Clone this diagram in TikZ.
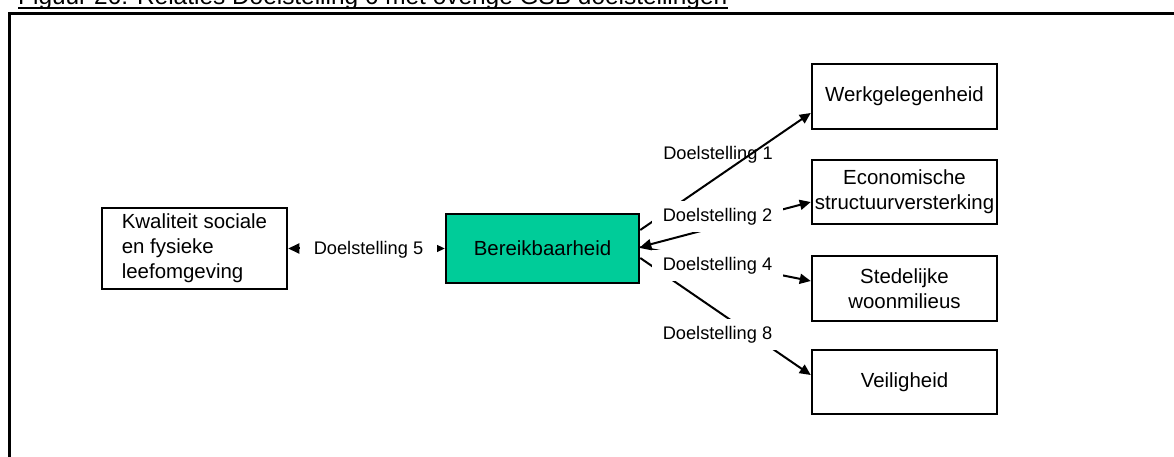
\documentclass[tikz,border=0pt]{standalone}
\usepackage{fontspec}
\setmainfont{Liberation Sans}
\usetikzlibrary{arrows.meta,calc}
\definecolor{reach}{RGB}{0,204,153}
\begin{document}
\begin{tikzpicture}[x=1bp,y=-1bp,
  goal/.style={draw, line width=2.5bp, minimum width=185bp, inner sep=0pt,
    font=\fontsize{20.5}{25}\selectfont, align=center},
  tip/.tip={Triangle[length=11bp,width=10bp]},
  oneway/.style={line width=2bp, -tip},
  twoway/.style={line width=2bp, tip-tip},
  tag/.style={font=\fontsize{18.3}{22}\selectfont, inner sep=0pt},
  masked/.style={tag, fill=white, minimum height=31bp, minimum width=131bp}]
\useasboundingbox (0,0) rectangle (1174,457);

% heading and frame
\node[anchor=base west, inner sep=0pt, font=\fontsize{24.5}{30}\selectfont] (title) at (18,5)
  {Figuur 26: Relaties Doelstelling 6 met overige GSB doelstellingen};
\draw[line width=2bp] ([yshift=-3bp]title.base west) -- ([yshift=-3bp]title.base east);
\draw[line width=3bp] (9,470) -- (9,13.5) -- (1190,13.5);

% goals
\node[goal, align=left, minimum height=81bp] (kw) at (194.5,248.5)
  {Kwaliteit sociale\\en fysieke\\leefomgeving};
\node[goal, fill=reach, minimum width=193bp, minimum height=69bp] (be) at (542.5,248.5)
  {Bereikbaarheid};
\node[goal, minimum height=65bp] (wg) at (904.5,96.5) {Werkgelegenheid};
\node[goal, minimum height=64bp] (ec) at (904.5,192)
  {Economische\\\makebox[0pt]{structuurversterking}};
\node[goal, minimum height=65bp] (st) at (904.5,288.5) {Stedelijke\\woonmilieus};
\node[goal, minimum height=64bp] (ve) at (904.5,382) {Veiligheid};

% label lying under its connector
\node[tag] (d1) at (718,155) {Doelstelling 1};

% connector ends
\coordinate (b1) at ($(be.east)+(0,-18.5)$);
\coordinate (b2) at ($(be.east)+(0,-1.5)$);
\coordinate (b8) at ($(be.east)+(0,9.5)$);
\coordinate (w1) at ($(wg.west)+(0,16.5)$);
\coordinate (e2) at ($(ec.west)+(0,10)$);
\coordinate (s4) at ($(st.west)+(0,-7.5)$);
\coordinate (v8) at ($(ve.west)+(0,-7)$);

% connectors
\draw[twoway] (kw.east) -- (be.west);
\draw[oneway] (b1) -- (w1);
\draw[twoway] (b2) -- (e2);
\draw[oneway] (b2) -- (s4);
\draw[oneway] (b8) -- (v8);

% labels blanking their connectors
\node[masked, minimum width=137bp] (d5) at (368.5,249.5) {Doelstelling 5};
\node[masked] (d2) at (717.5,216.5) {Doelstelling 2};
\node[masked] (d4) at (717.5,265.5) {Doelstelling 4};
\node[masked] (d8) at (717.5,335) {Doelstelling 8};
\end{tikzpicture}
\end{document}
